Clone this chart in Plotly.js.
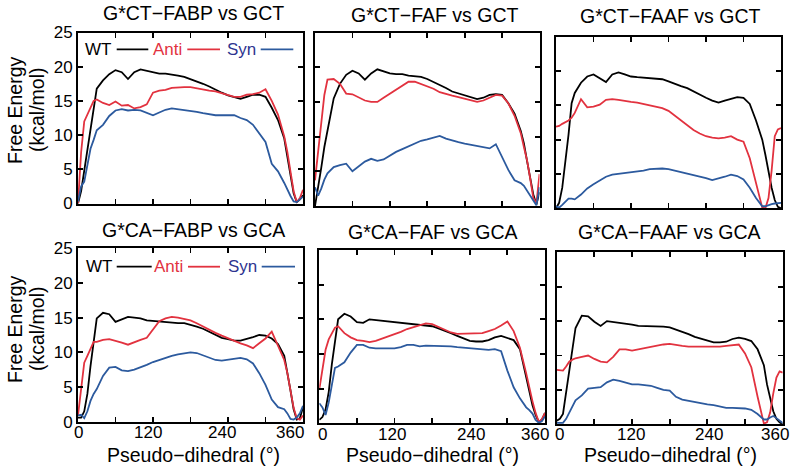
<!DOCTYPE html>
<html><head><meta charset="utf-8">
<script src="https://cdn.plot.ly/plotly-3.0.1.min.js"></script>
<style>html,body{margin:0;padding:0;background:#fff}#chart{width:791px;height:470px}</style>
</head><body><div id="chart"></div>
<script>
// Pseudo-dihedral angle grid (degrees)
const angle = [0,5,10,15,20,25,30, 40,50,60,70,80,90,100,110,120,130,140,150,160,170,180,190,200,210,220,230,240,250,260,270,280,290,300,310,320, 330,335,340,345,350,355,360];

// G*CT-FABP vs GCT
const ctFabpWT   = [0,1.8,4.8,7.8,10.8,13.8,16.8, 18.0,18.9,19.5,19.2,18.2,19.2,19.6,19.4,19.1,19.0,19.0,18.9,18.7,18.5,18.2,17.9,17.5,17.1,16.6,16.2,15.8,15.5,15.3,15.6,15.9,15.9,15.6,14.0,12.2, 9.5,7.0,4.0,1.5,0.2,0.6,1.2];
const ctFabpAnti = [0,7.5,12.0,13.0,13.8,15.0,15.2, 14.7,14.4,14.9,14.3,14.4,13.9,14.1,14.5,16.2,16.5,16.6,16.9,17.0,17.0,17.0,16.8,16.7,16.5,16.4,16.1,15.9,15.6,15.6,15.9,16.0,16.2,16.7,15.0,13.0, 9.8,7.5,4.5,1.8,0.2,0.8,2.0];
const ctFabpSyn  = [0.3,2.5,3.2,5.5,8.0,9.3,10.7, 11.5,12.8,13.6,13.8,13.6,13.7,13.6,13.2,12.9,13.3,13.7,13.9,13.8,13.6,13.5,13.4,13.2,13.0,12.9,12.9,12.9,12.9,12.5,12.2,11.5,10.3,9.0,5.8,4.7, 3.0,2.0,1.1,0.3,0.2,0.6,1.0];

// G*CT-FAF vs GCT
const ctFafWT    = [0,2.5,5.5,8.5,11.0,13.6,15.5, 17.6,18.9,19.5,19.1,18.2,19.1,19.7,19.4,19.1,19.0,19.0,18.8,18.7,18.6,18.3,17.9,17.5,17.0,16.5,16.2,15.9,15.6,15.4,15.6,16.0,16.1,16.0,14.8,13.3, 10.8,9.0,6.5,4.0,1.7,0.2,2.0];
const ctFafAnti  = [3.7,8.0,12.0,16.0,18.2,18.3,18.3, 17.6,16.2,16.1,15.7,15.2,15.0,15.0,15.6,16.2,16.8,17.4,17.9,17.9,17.6,17.3,16.9,16.4,16.1,15.9,15.7,15.5,15.2,15.0,15.2,15.6,16.0,15.9,14.8,13.0, 10.5,8.5,6.6,4.0,1.2,0.3,4.6];
const ctFafSyn   = [2.7,1.5,2.5,3.8,4.7,5.2,5.6, 5.9,6.1,5.0,5.7,6.4,6.8,6.5,6.7,7.3,7.8,8.2,8.6,9.1,9.4,9.6,9.8,10.1,9.7,9.4,9.2,9.0,8.8,8.6,8.4,8.3,8.9,7.1,5.2,3.7, 3.3,2.9,2.2,1.4,0.7,0.1,2.7];

// G*CT-FAAF vs GCT
const ctFaafWT   = [0,0.8,3.0,6.6,10.7,15.3,16.8, 18.3,19.2,19.5,19.0,18.4,19.5,19.8,19.5,19.2,19.1,19.0,18.9,18.8,18.8,18.5,18.1,17.8,17.5,17.0,16.5,16.1,15.7,15.4,15.7,16.0,16.2,16.1,15.2,12.8, 10.0,7.8,5.3,3.0,1.2,0.2,0.0];
const ctFaafAnti = [11.9,12.0,12.3,12.5,12.8,13.2,13.9, 15.9,14.7,14.8,15.1,15.8,15.9,15.8,15.6,15.5,15.4,15.2,15.1,14.9,14.6,14.2,13.5,12.9,12.1,11.4,10.9,10.5,10.3,10.2,10.3,10.5,10.0,9.7,7.3,3.8, 0.1,0.0,1.5,5.5,10.5,11.5,11.7];
const ctFaafSyn  = [0.3,0.1,0.5,1.0,1.4,1.4,1.3, 2.0,2.9,3.5,4.1,4.6,4.9,5.0,5.2,5.3,5.4,5.5,5.7,5.8,5.8,5.7,5.5,5.3,5.1,4.9,4.6,4.4,4.1,4.3,4.6,4.9,4.7,4.2,3.0,1.5, 0.3,0.3,0.5,0.6,0.7,0.7,0.8];

// G*CA-FABP vs GCA
const caFabpWT   = [0.6,0.6,1.5,4.0,8.0,11.5,14.9, 15.7,15.5,14.4,14.8,15.1,15.0,14.9,14.6,14.5,14.4,14.3,14.2,14.2,14.2,14.0,13.7,13.4,13.0,12.5,12.1,11.9,11.7,11.7,11.9,12.2,12.5,12.4,12.0,11.2, 9.5,7.2,4.5,1.8,0.3,0.5,2.1];
const caFabpAnti = [0.9,4.5,8.5,9.5,10.5,11.5,11.5, 11.8,11.9,11.7,11.4,11.1,11.5,11.8,12.1,13.3,14.5,14.9,15.1,15.0,14.8,14.6,14.2,13.7,13.3,12.8,12.4,12.0,11.6,11.3,11.0,10.6,11.3,12.0,13.0,10.9, 8.9,7.0,4.5,2.0,0.5,0.3,0.9];
const caFabpSyn  = [0.9,1.0,0.5,1.5,3.0,4.0,4.7, 6.6,7.8,7.9,7.4,7.3,7.5,7.8,8.2,8.6,8.9,9.3,9.5,9.7,9.8,10.0,9.9,9.6,9.2,8.9,8.8,8.9,9.1,9.2,9.0,8.4,7.0,5.3,3.2,2.1, 1.8,1.2,0.4,0.3,0.6,1.2,2.3];

// G*CA-FAF vs GCA
const caFafWT    = [0.5,0.9,2.0,4.5,8.5,12.0,15.0, 15.8,15.4,14.6,14.5,15.0,14.9,14.8,14.7,14.6,14.5,14.3,14.2,14.1,14.1,14.0,13.7,13.4,13.0,12.6,12.3,11.9,11.8,11.8,12.0,12.4,12.6,12.3,12.0,10.7, 6.5,4.5,2.6,1.2,0.2,0.5,1.5];
const caFafAnti  = [4.9,8.0,10.6,12.1,13.0,13.8,14.0, 13.0,12.4,12.0,11.9,11.7,11.9,12.2,12.5,12.9,13.2,13.6,13.9,14.2,14.4,14.3,13.9,13.4,13.1,12.9,12.9,12.9,12.9,13.0,13.3,13.6,14.1,14.7,13.3,10.9, 7.2,5.0,3.2,1.5,0.2,0.6,1.5];
const caFafSyn   = [2.9,2.3,1.2,3.0,5.5,8.0,8.2, 8.8,10.2,11.3,11.3,10.9,10.8,10.8,10.7,10.8,11.0,11.3,11.3,11.1,11.2,11.2,11.2,11.2,11.1,11.0,10.9,10.8,10.7,10.7,10.6,10.7,10.4,7.6,5.2,3.6, 2.3,1.9,1.4,0.5,0.1,0.3,1.0];

// G*CA-FAAF vs GCA
const caFaafWT   = [0.5,0.8,1.5,4.5,7.8,11.0,14.0, 15.8,15.7,14.9,14.3,15.0,14.9,14.7,14.6,14.5,14.3,14.3,14.3,14.2,14.2,14.1,13.8,13.5,13.1,12.7,12.4,12.1,11.9,11.9,12.0,12.4,12.6,12.4,12.1,10.9, 8.6,5.8,3.9,1.9,0.8,0.3,0.0];
const caFaafAnti = [7.9,7.8,7.8,8.4,9.1,9.4,9.6, 9.8,10.0,9.5,9.1,9.0,9.8,10.9,10.9,10.7,10.9,11.0,11.2,11.4,11.6,11.7,11.5,11.4,11.3,11.3,11.2,11.2,11.3,11.3,11.4,11.5,11.6,10.3,8.3,4.0, 0.1,0.3,1.7,4.5,6.8,7.7,7.5];
const caFaafSyn  = [0.2,0.2,0.2,0.8,1.7,2.8,3.5, 4.2,5.2,5.3,5.4,6.1,6.5,6.3,6.0,5.8,5.8,5.7,5.6,5.3,5.0,4.9,4.0,3.6,3.4,3.2,3.0,2.9,2.8,2.6,2.4,2.4,2.4,2.3,2.1,1.5, 0.7,0.7,1.0,1.2,0.9,0.5,0.2];

const panelTitles = ['G*CT\u2212FABP vs GCT','G*CT\u2212FAF vs GCT','G*CT\u2212FAAF vs GCT',
                     'G*CA\u2212FABP vs GCA','G*CA\u2212FAF vs GCA','G*CA\u2212FAAF vs GCA'];
const seriesNames = ['WT','Anti','Syn'];
const xRange = [0, 360];
const xTickVals = [0,60,120,180,240,300,360];
const xLabelVals = [0,120,240,360];
const xLabelText = ['0','120','240','360'];
const yTickVals = [0,5,10,15,20,25];
const xTitle = 'Pseudo\u2212dihedral (\u00b0)';
const yTitle1 = 'Free Energy';
const yTitle2 = '(kcal/mol)';

const panels = [
  [ctFabpWT, ctFabpAnti, ctFabpSyn],
  [ctFafWT, ctFafAnti, ctFafSyn],
  [ctFaafWT, ctFaafAnti, ctFaafSyn],
  [caFabpWT, caFabpAnti, caFabpSyn],
  [caFafWT, caFafAnti, caFafSyn],
  [caFaafWT, caFaafAnti, caFaafSyn]
];

const W = 791, H = 470;
const px = v => v / W, py = v => 1 - v / H;
const FONT = 'Liberation Sans, Arial, Helvetica, sans-serif';
const lineColors = ['#000000', '#e2323f', '#2c5a9e'];
const textColors = ['#000000', '#e2323f', '#2e3590'];

// panel boxes in pixels: [left, right, top, bottom]
const boxes = [
  [78, 303, 32.5, 203.5],
  [315, 539.5, 32.5, 206],
  [556, 781, 36.7, 208.3],
  [78, 303, 248.3, 421.7],
  [319.3, 545, 250, 423.3],
  [556.7, 782.7, 252.3, 424.3]
];
// x tick label placement for the bottom row (pixel nudges as in the original figure)
const xLabelY = {3: 432, 4: 434, 5: 434};
const xLabelNudge = {3: [0, -5, -6, -13], 4: [3, -3, 1, -10], 5: [3, -1, 2, -8]};

const traces = [];
panels.forEach((p, i) => {
  const ax = i === 0 ? '' : String(i + 1);
  p.forEach((ys, j) => {
    traces.push({
      x: angle, y: ys, type: 'scatter', mode: 'lines',
      name: seriesNames[j], showlegend: false,
      xaxis: 'x' + ax, yaxis: 'y' + ax,
      line: {color: lineColors[j], width: 1.8}
    });
  });
});

const layout = {
  width: W, height: H,
  margin: {l: 0, r: 0, t: 0, b: 0},
  paper_bgcolor: '#fff', plot_bgcolor: '#fff',
  font: {family: FONT, size: 17, color: '#000'},
  showlegend: false,
  annotations: [], shapes: []
};

boxes.forEach((b, i) => {
  const ax = i === 0 ? '' : String(i + 1);
  const leftCol = i % 3 === 0;
  layout['xaxis' + ax] = {
    domain: [px(b[0]), px(b[1])], anchor: 'y' + ax,
    range: xRange, tickvals: xTickVals,
    showticklabels: false, ticks: 'inside', ticklen: 5, tickwidth: 1.8,
    tickcolor: '#000', showline: true, linewidth: 2, linecolor: '#000',
    mirror: 'ticks', showgrid: false, zeroline: false
  };
  layout['yaxis' + ax] = {
    domain: [py(b[3]), py(b[2])], anchor: 'x' + ax,
    range: [0, 25], tickvals: yTickVals,
    showticklabels: leftCol, ticks: 'inside', ticklen: 5, tickwidth: 1.8,
    tickcolor: '#000', showline: true, linewidth: 2, linecolor: '#000',
    mirror: 'ticks', showgrid: false, zeroline: false,
    ticklabeloverflow: 'allow',
    tickfont: {size: 17, family: FONT}
  };
  if (i >= 3) {
    xLabelVals.forEach((v, k) => {
      layout.annotations.push({
        text: xLabelText[k], xref: 'x' + ax + ' domain', yref: 'paper',
        x: (v - xRange[0]) / (xRange[1] - xRange[0]), y: py(xLabelY[i]),
        xshift: xLabelNudge[i][k], xanchor: 'center', yanchor: 'middle', showarrow: false,
        font: {size: 17, family: FONT, color: '#000'}
      });
    });
  }
});

// panel titles
const titlePos = [[193, 13], [434, 15], [670, 16.5], [193, 230], [433, 231.5], [669, 231.5]];
titlePos.forEach((t, i) => {
  layout.annotations.push({
    text: panelTitles[i], xref: 'paper', yref: 'paper', x: px(t[0]), y: py(t[1]),
    xanchor: 'center', yanchor: 'middle', showarrow: false,
    font: {size: 19.5, family: FONT, color: '#000'}
  });
});

// x axis titles
[193, 432.5, 670].forEach(cx => {
  layout.annotations.push({
    text: xTitle, xref: 'paper', yref: 'paper', x: px(cx), y: py(455),
    xanchor: 'center', yanchor: 'middle', showarrow: false,
    font: {size: 19.5, family: FONT, color: '#000'}
  });
});

// y axis titles
[110, 329].forEach(cy => {
  [[15, yTitle1], [37, yTitle2]].forEach(([cx, txt]) => {
    layout.annotations.push({
      text: txt, xref: 'paper', yref: 'paper', x: px(cx), y: py(cy),
      xanchor: 'center', yanchor: 'middle', showarrow: false, textangle: -90,
      font: {size: 19.5, family: FONT, color: '#000'}
    });
  });
});

// in-plot legends (text followed by line sample), top-left and bottom-left panels
const legendRows = [
  {y: 49.3, text: [98, 167.5, 241], lines: [[116.7, 148.3], [187.3, 220], [260.7, 293.3]]},
  {y: 266.7, text: [99, 168.3, 242], lines: [[116.7, 151.7], [188, 220], [261.7, 295]]}
];
legendRows.forEach(r => {
  seriesNames.forEach((nm, j) => {
    layout.annotations.push({
      text: nm, xref: 'paper', yref: 'paper', x: px(r.text[j]), y: py(r.y),
      xanchor: 'center', yanchor: 'middle', showarrow: false,
      font: {size: 17, family: FONT, color: textColors[j]}
    });
    layout.shapes.push({
      type: 'line', xref: 'paper', yref: 'paper',
      x0: px(r.lines[j][0]), x1: px(r.lines[j][1]), y0: py(r.y), y1: py(r.y),
      line: {color: lineColors[j], width: 1.8}
    });
  });
});

Plotly.newPlot('chart', traces, layout, {displayModeBar: false, staticPlot: true});
</script>
</body></html>
